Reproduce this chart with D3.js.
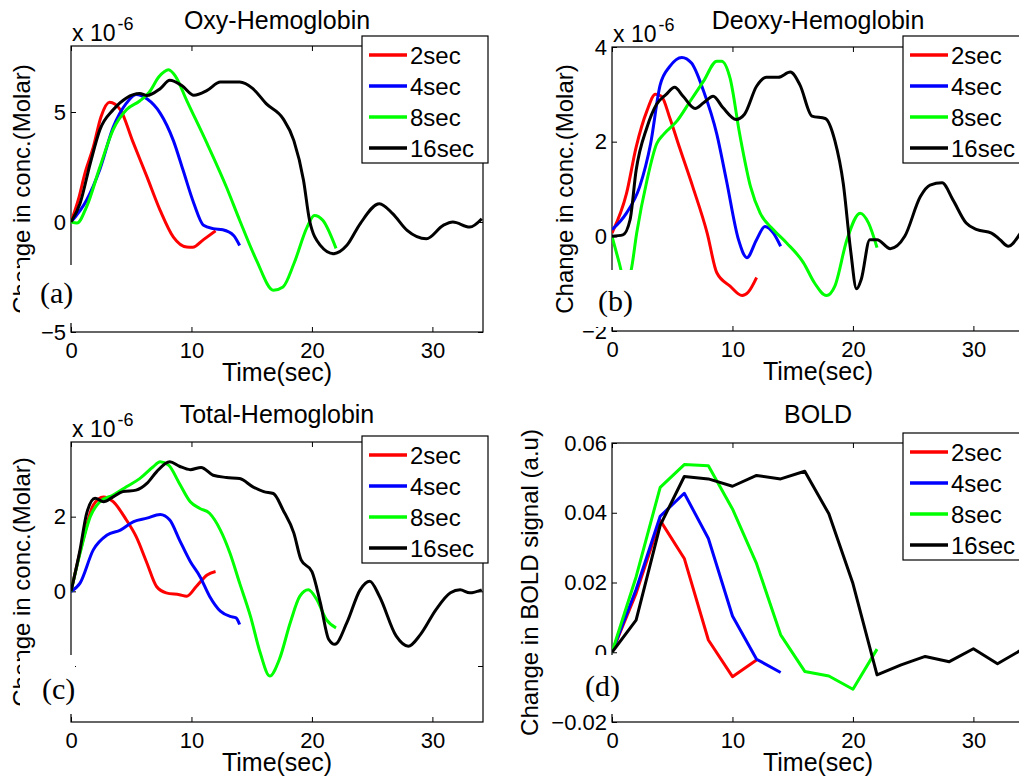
<!DOCTYPE html>
<html>
<head>
<meta charset="utf-8">
<script src="https://cdn.jsdelivr.net/npm/d3@7"></script>
<style>
body { margin: 0; background: #fff; }
svg { display: block; }
text { font-family: Arial, "Liberation Sans", sans-serif; fill: #000; }
</style>
</head>
<body>
<svg id="fig" width="1019" height="780"></svg>
<script>
const seriesNames = ['2sec', '4sec', '8sec', '16sec']
const seriesColors = ['#ff0000', '#0000ff', '#00ff00', '#000000']

// [time (sec), change in conc. (x 1e-6 Molar)]
const oxy2 = [[0,0],[0.6,1.0],[1.2,2.3],[1.85,3.4],[2.5,4.8],[3.2,5.44],[4.1,5.1],[5.1,3.7],[6.3,2.06],[7.4,0.53],[8.5,-0.69],[9.6,-1.14],[10.1,-1.15],[11,-0.8],[12,-0.4]]
const oxy4 = [[0,0],[1.3,1.0],[2.4,2.4],[3.5,4.3],[4.6,5.4],[5.4,5.8],[6.3,5.6],[7.4,4.95],[8.5,3.7],[9.3,2.36],[10.2,0.84],[11,-0.15],[11.8,-0.3],[12.6,-0.35],[13.5,-0.61],[14,-1.07]]
const oxy8 = [[0,0],[0.5,-0.05],[1.3,0.7],[2.4,2.5],[3.5,4.2],[4.6,5.1],[5.7,5.5],[6.5,5.9],[7.3,6.6],[8.1,6.92],[8.7,6.6],[9.6,5.53],[11.3,3.56],[12.9,1.59],[14.0,0.08],[15.4,-1.74],[16.8,-3.1],[17.6,-2.95],[18.5,-1.9],[19.6,-0.23],[20.2,0.3],[20.9,0.08],[22,-1.2]]
const oxy16 = [[0,0],[0.75,0.84],[1.6,2.67],[2.4,4.2],[3.5,5.1],[4.6,5.64],[5.7,5.84],[6.3,5.75],[7.4,6.06],[8.2,6.44],[9.2,6.2],[10.2,5.76],[11.3,5.98],[12.4,6.36],[14,6.36],[15.1,6.06],[16.2,5.38],[17.6,4.7],[18.5,3.7],[19.3,1.9],[19.8,0.08],[20.7,-1.06],[21.8,-1.44],[22.9,-1.06],[24,-0.08],[25.6,0.83],[26.7,0.38],[27.9,-0.38],[29.5,-0.76],[30.9,-0.15],[31.7,0],[33.1,-0.23],[34.1,0.15]]

const deoxy2 = [[0,0.07],[1.2,0.9],[2.0,1.88],[2.9,2.65],[3.6,3.0],[4.1,2.96],[4.8,2.5],[5.6,1.88],[6.7,1.05],[7.9,0.07],[8.7,-0.77],[9.8,-1.05],[10.8,-1.25],[11.3,-1.18],[12,-0.87]]
const deoxy4 = [[0,0.14],[1.2,0.49],[2.3,1.05],[3.2,1.95],[4.0,3.2],[4.8,3.59],[5.8,3.78],[6.6,3.66],[7.6,3.07],[8.7,2.16],[9.5,1.18],[10.5,-0.07],[11.2,-0.45],[12,-0.07],[12.7,0.21],[13.4,0.07],[14,-0.21]]
const deoxy8 = [[0,0],[0.6,-0.56],[1.1,-1.0],[1.6,-0.7],[2.05,0.07],[2.9,1.18],[3.7,1.95],[4.3,2.16],[5.4,2.44],[6.5,2.86],[7.6,3.28],[8.7,3.7],[9.1,3.7],[9.8,3.34],[10.6,2.16],[11.5,1.05],[12.3,0.49],[13.4,0.14],[14.5,-0.14],[15.9,-0.56],[16.8,-0.98],[17.8,-1.25],[18.5,-1.05],[19.5,-0.07],[20.6,0.49],[21.3,0.28],[22,-0.24]]
const deoxy16 = [[0,0],[0.9,0.03],[1.5,0.35],[2.0,1.39],[2.9,2.3],[3.7,2.79],[4.5,3.0],[5.2,3.15],[5.9,2.96],[6.9,2.7],[7.6,2.82],[8.4,2.96],[9.2,2.72],[10.3,2.47],[11.0,2.58],[12.0,3.17],[12.8,3.36],[13.8,3.36],[14.8,3.47],[15.6,3.2],[16.6,2.54],[17.7,2.49],[18.5,2.02],[19.2,1.11],[19.8,-0.28],[20.3,-1.11],[20.7,-0.9],[21.4,-0.07],[22,-0.07],[23.1,-0.26],[24.3,0],[25.6,0.84],[26.4,1.08],[27.4,1.13],[28.3,0.77],[29.4,0.28],[30.3,0.14],[31.5,0.07],[32.2,-0.07],[32.9,-0.21],[33.8,0.03],[34.2,0.2]]

const total2 = [[0,0],[1.0,1.38],[1.85,2.31],[2.7,2.53],[3.5,2.4],[4.6,1.91],[5.4,1.47],[6.3,0.76],[7.1,0.13],[7.9,-0.04],[9.0,-0.09],[9.6,-0.13],[10.4,0.13],[11.3,0.44],[12,0.53]]
const total4 = [[0,0],[0.75,0.22],[1.85,1.11],[3.0,1.51],[4.1,1.64],[5.2,1.87],[6.3,1.96],[7.4,2.06],[8.2,1.91],[9.0,1.38],[9.9,0.8],[10.7,0.4],[11.5,-0.13],[12.4,-0.53],[13.2,-0.67],[13.7,-0.71],[14,-0.89]]
const total8 = [[0,0],[0.75,1.02],[1.6,2.0],[2.4,2.4],[3.5,2.58],[4.6,2.8],[5.7,3.02],[6.8,3.33],[7.4,3.47],[8.1,3.38],[9.0,2.89],[9.9,2.4],[10.7,2.22],[11.5,2.09],[12.4,1.64],[13.2,1.02],[14.0,0.22],[14.9,-0.67],[15.7,-1.64],[16.5,-2.27],[17.3,-1.82],[18.2,-0.84],[19.0,-0.13],[19.7,0.04],[20.4,-0.22],[21.2,-0.76],[22,-0.98]]
const total16 = [[0,0],[0.75,1.11],[1.3,2.09],[2.0,2.49],[2.7,2.4],[3.5,2.53],[4.3,2.67],[5.4,2.71],[6.3,2.89],[7.1,3.2],[8.2,3.47],[9.0,3.35],[9.9,3.26],[10.8,3.32],[11.8,3.11],[12.9,3.05],[14.0,3.02],[15.1,2.8],[16.0,2.67],[16.8,2.62],[17.6,2.18],[18.5,1.56],[19.1,0.84],[20.0,0.53],[20.7,-0.31],[21.4,-1.29],[21.9,-1.42],[22.9,-0.84],[24.0,0.04],[24.8,0.27],[25.6,-0.13],[27.0,-1.2],[28.0,-1.47],[29.0,-1.16],[30.3,-0.49],[31.5,-0.04],[32.3,0.04],[33.1,-0.04],[34.1,0.04]]

// BOLD is sampled every 2 sec
const boldTimes = [0, 2, 4, 6, 8, 10, 12, 14, 16, 18, 20, 22, 24, 26, 28, 30, 32, 34]
const bold2 = [0, 0.0169, 0.0378, 0.0269, 0.0035, -0.007, -0.0022]
const bold4 = [0, 0.018, 0.039, 0.0456, 0.0326, 0.0104, -0.002, -0.0058]
const bold8 = [0, 0.0216, 0.0473, 0.0538, 0.0535, 0.0411, 0.0254, 0.005, -0.0055, -0.0068, -0.0106, 0.0009]
const bold16 = [0, 0.0092, 0.0364, 0.0504, 0.0497, 0.0476, 0.0507, 0.0497, 0.0519, 0.0397, 0.0197, -0.0065, -0.0036, -0.0012, -0.0027, 0.001, -0.0033, 0.0007]

const xTicks = [0, 10, 20, 30]

const withTimes = vals => vals.map((v, i) => [boldTimes[i], v])

const panels = [
    {title: 'Oxy-Hemoglobin', tag: '(a)', series: [oxy2, oxy4, oxy8, oxy16],
        yDomain: [-5, 8], yTicks: [-5, 0, 5], yLabel: 'Change in conc.(Molar)', sci: true, smooth: true,
        left: 71, top: 46, bottom: 332, labelX: 30, titleY: 29, legendTop: 36,
        mask: [20, 265, 55, 58], tagPos: [40, 303]},
    {title: 'Deoxy-Hemoglobin', tag: '(b)', series: [deoxy2, deoxy4, deoxy8, deoxy16],
        yDomain: [-2, 4], yTicks: [-2, 0, 2, 4], yLabel: 'Change in conc.(Molar)', sci: true, smooth: true,
        left: 612, top: 47, bottom: 331, labelX: 573, titleY: 29, legendTop: 36,
        mask: [580, 270, 60, 57], tagPos: [598, 311]},
    {title: 'Total-Hemoglobin', tag: '(c)', series: [total2, total4, total8, total16],
        yDomain: [-3.5, 4], yTicks: [-2, 0, 2], yLabel: 'Change in conc.(Molar)', sci: true, smooth: true,
        left: 71, top: 442, bottom: 722, labelX: 30, titleY: 423, legendTop: 436,
        mask: [20, 655, 55, 59], tagPos: [42, 699]},
    {title: 'BOLD', tag: '(d)', series: [bold2, bold4, bold8, bold16].map(withTimes),
        yDomain: [-0.02, 0.06], yTicks: [-0.02, 0, 0.02, 0.04, 0.06], yLabel: 'Change in BOLD signal (a.u)', sci: false, smooth: false,
        left: 612, top: 443, bottom: 722, labelX: 538, titleY: 423, legendTop: 433,
        mask: [560, 655, 56, 59], tagPos: [585, 696]}
]

const plotWidth = 412
const xMax = 34.2

const svg = d3.select('#fig')
svg.append('rect').attr('width', 1019).attr('height', 780).attr('fill', '#fff')

panels.forEach((p, pi) => drawPanel(p, pi))

function drawPanel(p, pi) {
    const x = d3.scaleLinear().domain([0, xMax]).range([p.left, p.left + plotWidth])
    const y = d3.scaleLinear().domain(p.yDomain).range([p.bottom, p.top])
    const fmt = v => (v === 0 ? '0' : d3.format('')(+v.toFixed(2)))

    const g = svg.append('g').attr('class', 'panel')

    //-------------------------------------------------------------
    // ticks on all four sides, pointing inward
    const bottomAxis = g.append('g')
        .attr('transform', `translate(0,${p.bottom})`)
        .call(d3.axisBottom(x).tickValues(xTicks).tickSizeInner(-5).tickSizeOuter(0).tickPadding(10))
    g.append('g')
        .attr('transform', `translate(0,${p.top})`)
        .call(d3.axisTop(x).tickValues(xTicks).tickSizeInner(-5).tickSizeOuter(0).tickFormat(''))
    const leftAxis = g.append('g')
        .attr('transform', `translate(${p.left},0)`)
        .call(d3.axisLeft(y).tickValues(p.yTicks).tickSizeInner(-5).tickSizeOuter(0).tickPadding(5).tickFormat(fmt))
    g.append('g')
        .attr('transform', `translate(${p.left + plotWidth},0)`)
        .call(d3.axisRight(y).tickValues(p.yTicks).tickSizeInner(-5).tickSizeOuter(0).tickFormat(''))

    g.selectAll('.domain').remove()
    g.selectAll('.tick line').attr('stroke', '#000')
    ;[bottomAxis, leftAxis].forEach(a => a.selectAll('text')
        .attr('font-size', 22)
        .attr('font-family', 'Arial, "Liberation Sans", sans-serif')
        .attr('fill', '#000'))

    g.append('rect')
        .attr('x', p.left).attr('y', p.top)
        .attr('width', plotWidth).attr('height', p.bottom - p.top)
        .attr('fill', 'none').attr('stroke', '#000').attr('stroke-width', 1.2)

    //-------------------------------------------------------------
    // curves
    const clipId = `clip-${pi}`
    g.append('clipPath').attr('id', clipId)
        .append('rect')
        .attr('x', p.left).attr('y', p.top)
        .attr('width', plotWidth).attr('height', p.bottom - p.top)

    const line = d3.line()
        .x(d => x(d[0]))
        .y(d => y(d[1]))
        .curve(p.smooth ? d3.curveMonotoneX : d3.curveLinear)

    g.append('g').attr('clip-path', `url(#${clipId})`)
        .selectAll('path')
        .data(p.series)
        .enter()
            .append('path')
            .attr('d', line)
            .attr('fill', 'none')
            .attr('stroke', (d, i) => seriesColors[i])
            .attr('stroke-width', 3)
            .attr('stroke-linejoin', 'round')

    //-------------------------------------------------------------
    // labels
    g.append('text')
        .attr('x', p.left + plotWidth / 2).attr('y', p.titleY)
        .attr('text-anchor', 'middle').attr('font-size', 25)
        .text(p.title)

    g.append('text')
        .attr('x', p.left + plotWidth / 2).attr('y', p.bottom + 49)
        .attr('text-anchor', 'middle').attr('font-size', 25)
        .text('Time(sec)')

    g.append('text')
        .attr('transform', `translate(${p.labelX},${(p.top + p.bottom) / 2})rotate(-90)`)
        .attr('text-anchor', 'middle').attr('font-size', 24)
        .text(p.yLabel)

    if (p.sci) {
        const sci = g.append('text')
            .attr('x', p.left + 1).attr('y', p.top - 5)
            .attr('font-size', 23)
            .text('x 10')
        sci.append('tspan').attr('dy', -11).attr('dx', 2).attr('font-size', 18).text('-6')
    }

    // pasted panel letter covers part of the y axis
    g.append('rect')
        .attr('x', p.mask[0]).attr('y', p.mask[1])
        .attr('width', p.mask[2]).attr('height', p.mask[3])
        .attr('fill', '#fff')
    g.append('text')
        .attr('x', p.tagPos[0]).attr('y', p.tagPos[1])
        .style('font-family', '"Liberation Serif", "Times New Roman", serif')
        .attr('font-size', 30)
        .text(p.tag)

    drawLegend(g, p.left + 291, p.legendTop)
}

function drawLegend(g, left, top) {
    const legend = g.append('g').attr('transform', `translate(${left},${top})`)
    legend.append('rect')
        .attr('width', 126).attr('height', 127)
        .attr('fill', '#fff').attr('stroke', '#000').attr('stroke-width', 1.2)

    const rows = legend.selectAll('g.row')
        .data(seriesNames)
        .enter()
            .append('g')
            .attr('class', 'row')
            .attr('transform', (d, i) => `translate(0,${19 + 31 * i})`)
    rows.append('line')
        .attr('x1', 7).attr('x2', 45)
        .attr('stroke', (d, i) => seriesColors[i])
        .attr('stroke-width', 3.5)
    rows.append('text')
        .attr('x', 48).attr('y', 8.5)
        .attr('font-size', 24)
        .text(d => d)
}
</script>
</body>
</html>
